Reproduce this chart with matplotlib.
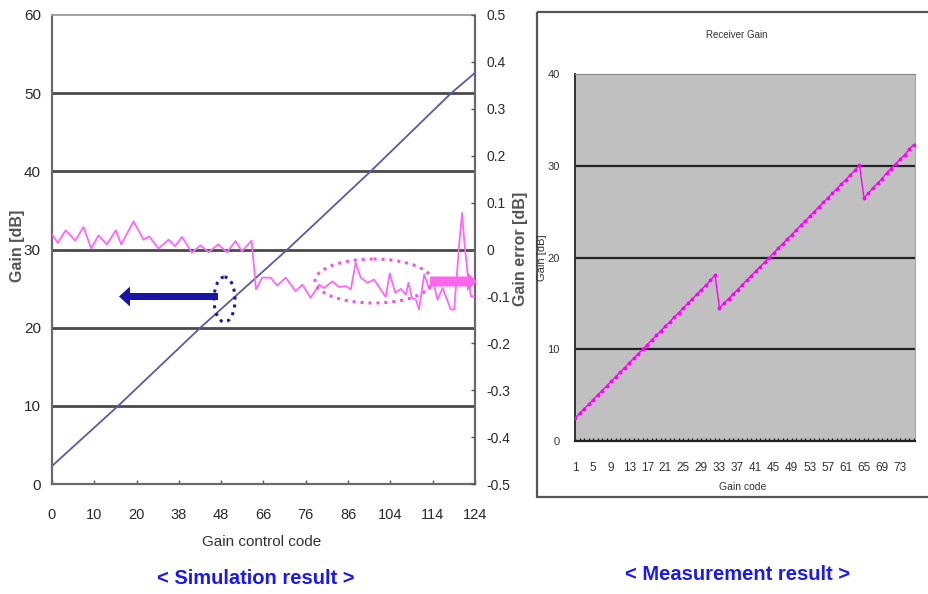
import matplotlib
matplotlib.use("Agg")
import matplotlib.pyplot as plt
from matplotlib.patches import Ellipse, FancyArrow, Rectangle
from matplotlib.transforms import Affine2D

plt.rcParams['font.family'] = ['Liberation Sans', 'DejaVu Sans']

# ---------------- data: simulation ----------------
sim_gain_code = [0, 19.4, 43.5, 69, 93.4, 117, 124]
sim_gain_db = [2.3, 10, 20, 30, 40, 50, 52.6]

err_code = [0.1, 1.7, 4.0, 6.8, 9.2, 11.5, 13.6, 16.1, 18.7, 20.3, 23.9, 26.8, 28.5,
            31.2, 34.2, 36.1, 38.1, 41.0, 43.5, 45.9, 48.7, 51.3, 53.8, 55.7, 58.5,
            59.8, 61.6, 64.1, 66.0, 68.5, 71.4, 73.4, 75.8, 78.3, 79.7, 82.2, 84.1,
            86.1, 87.6, 89.0, 90.5, 92.5, 94.4, 97.8, 99.0, 100.6, 102.3, 103.7,
            104.5, 105.5, 106.7, 107.6, 109.1, 110.6, 111.8, 113.0, 114.5, 116.9,
            117.9, 119.4, 120.2, 120.9, 121.9, 122.8, 124.0]
err_db = [0.031, 0.014, 0.041, 0.019, 0.048, 0.002, 0.030, 0.011, 0.041, 0.011, 0.060,
          0.021, 0.028, 0.002, 0.021, 0.007, 0.027, -0.007, 0.009, -0.006, 0.011,
          -0.006, 0.018, -0.004, 0.019,
          -0.085, -0.060, -0.060, -0.077, -0.060, -0.089, -0.075, -0.103, -0.075,
          -0.082, -0.068, -0.080, -0.078, -0.085, -0.028, -0.060, -0.071, -0.064,
          -0.101, -0.051, -0.092, -0.084, -0.096, -0.071, -0.103, -0.107, -0.128,
          -0.053, -0.085, -0.070, -0.107, -0.082, -0.128, -0.128, 0.014, 0.078,
          0.014, -0.057, -0.100, -0.100]

sim_xtick_labels = ['0', '10', '20', '38', '48', '66', '76', '86', '104', '114', '124']
sim_ytick_left = [0, 10, 20, 30, 40, 50, 60]
sim_ytick_right = [0.5, 0.4, 0.3, 0.2, 0.1, 0, -0.1, -0.2, -0.3, -0.4, -0.5]

# ---------------- data: measurement ----------------
meas_code = list(range(1, 77))
meas_gain = [2.5, 3.0, 3.5, 4.0, 4.5, 5.0, 5.5, 6.0, 6.5, 7.0, 7.5, 8.0, 8.5, 9.0, 9.5, 10.0,
             10.5, 11.0, 11.5, 12.0, 12.5, 13.0, 13.5, 14.0, 14.5, 15.0, 15.5, 16.0, 16.5,
             17.0, 17.5, 18.1,
             14.5, 15.0, 15.5, 16.0, 16.5, 17.0, 17.5, 18.0, 18.5, 19.0, 19.5, 20.0, 20.5,
             21.0, 21.5, 22.0, 22.5, 23.0, 23.5, 24.0, 24.5, 25.0, 25.5, 26.0, 26.5, 27.0,
             27.5, 28.0, 28.5, 29.0, 29.5, 30.1,
             26.5, 27.0, 27.6, 28.1, 28.6, 29.2, 29.7, 30.2, 30.7, 31.2, 31.8, 32.3]
meas_xtick_labels = [1, 5, 9, 13, 17, 21, 25, 29, 33, 37, 41, 45, 49, 53, 57, 61, 65, 69, 73]
meas_yticks = [0, 10, 20, 30, 40]

W, H = 929, 594
fig = plt.figure(figsize=(W / 100, H / 100), dpi=100)
pix = Affine2D().scale(1 / W, -1 / H).translate(0, 1) + fig.transFigure

def fx(x):
    return x / W

def fy(y):
    return 1 - y / H

# ---------------- left: simulation ----------------
ax1 = fig.add_axes([fx(52), fy(484), (475 - 52) / W, (484 - 15) / H])
ax1.set_xlim(0, 124)
ax1.set_ylim(0, 60)
ax1.set_yticks(sim_ytick_left)
ax1.set_yticklabels([str(v) for v in sim_ytick_left], fontsize=11, color='#2a2a2a')
ax1.tick_params(axis='y', length=0, pad=8)
xt = [124 * i / (len(sim_xtick_labels) - 1) for i in range(len(sim_xtick_labels))]
ax1.set_xticks(xt)
ax1.set_xticklabels(sim_xtick_labels, fontsize=10.5, color='#2a2a2a')
ax1.tick_params(axis='x', direction='in', length=3, width=1, color='#555555', pad=17)
for v in sim_ytick_left[1:-1]:
    ax1.axhline(v, color='#4a4a4a', lw=2.0, zorder=1)
for s in ['left', 'bottom', 'right']:
    ax1.spines[s].set_color('#6a6a6a')
    ax1.spines[s].set_linewidth(1.6)
ax1.spines['top'].set_color('#a0a0a0')
ax1.spines['top'].set_linewidth(1.4)
ax1.plot(sim_gain_code, sim_gain_db, color='#5a5aaa', lw=1.3, zorder=3)

ax2 = ax1.twinx()
ax2.set_ylim(-0.5, 0.5)
ax2.set_yticks(sim_ytick_right)
ax2.set_yticklabels(['%g' % v for v in sim_ytick_right], fontsize=10, color='#2a2a2a')
ax2.tick_params(axis='y', direction='in', length=3, width=1, color='#555555', pad=8)
for s in ax2.spines.values():
    s.set_visible(False)
ax2.plot(err_code, err_db, color='#ff66ff', lw=1.3, zorder=4)

fig.text(fx(17.5), fy(246), 'Gain [dB]', rotation=90, ha='center', va='center',
         fontsize=11.5, fontweight='bold', color='#555555')
fig.text(fx(521), fy(249), 'Gain error [dB]', rotation=90, ha='center', va='center',
         fontsize=11.5, fontweight='bold', color='#555555')
fig.text(fx(262), fy(542), 'Gain control code', ha='center', va='center', fontsize=11,
         color='#333333')
fig.text(fx(256), fy(578), '< Simulation result >', ha='center', va='center', fontsize=14.5,
         fontweight='bold', color='#1a1aee')

# annotations
fig.add_artist(Ellipse((224.5, 299.5), 21, 45, transform=pix, fill=False,
                       edgecolor='#1a1a9a', lw=2.2, linestyle=(0, (1, 1.6))))
fig.add_artist(Ellipse((373.5, 281), 117, 44, transform=pix, fill=False,
                       edgecolor='#ee55ee', lw=2.2, linestyle=(0, (1, 1.6))))
fig.add_artist(FancyArrow(218, 296.5, -99, 0, width=7, head_width=20, head_length=11,
                          length_includes_head=True, transform=pix,
                          color='#1a14a8', lw=0))
fig.add_artist(FancyArrow(430, 281.5, 47, 0, width=10, head_width=19, head_length=10,
                          length_includes_head=True, transform=pix,
                          color='#ff66ee', lw=0))

# ---------------- right: measurement ----------------
fig.add_artist(Rectangle((537, 12), 420, 485, transform=pix, fill=False,
                         edgecolor='#555555', lw=1.6))
ax3 = fig.add_axes([fx(575), fy(441), (915 - 575) / W, (441 - 74) / H])
ax3.set_facecolor('#c0c0c0')
ax3.set_xlim(1, 76.3)
ax3.set_ylim(0, 40)
for v in meas_yticks[1:-1]:
    ax3.axhline(v, color='#222222', lw=1.6, zorder=1)
ax3.plot(meas_code, meas_gain, color='#ff00ff', lw=1.0, marker='o', ms=2.8,
         markeredgewidth=0, zorder=3)
ax3.set_yticks(meas_yticks)
ax3.set_yticklabels([str(v) for v in meas_yticks], fontsize=8, color='#333333')
ax3.tick_params(axis='y', length=0, pad=11)
ax3.set_xticks(meas_xtick_labels)
ax3.set_xticklabels([str(v) for v in meas_xtick_labels], fontsize=8.5, color='#333333')
ax3.set_xticks(meas_code, minor=True)
ax3.tick_params(axis='x', which='both', direction='in', length=2.5, width=1,
                color='#222222', pad=15)
ax3.spines['left'].set_color('#333333')
ax3.spines['left'].set_linewidth(1.4)
ax3.spines['bottom'].set_color('#222222')
ax3.spines['bottom'].set_linewidth(1.6)
ax3.spines['top'].set_color('#888888')
ax3.spines['right'].set_color('#a8a8a8')

fig.text(fx(737), fy(35), 'Receiver Gain', ha='center', va='center', fontsize=7,
         color='#333333')
fig.text(fx(542), fy(258), 'Gain [dB]', rotation=90, ha='center', va='center',
         fontsize=8, color='#333333')
fig.text(fx(743), fy(487), 'Gain code', ha='center', va='center', fontsize=7.5,
         color='#333333')
fig.text(fx(738), fy(574), '< Measurement result >', ha='center', va='center',
         fontsize=14.5, fontweight='bold', color='#1a1aee')

fig.savefig('out.png', dpi=100)
